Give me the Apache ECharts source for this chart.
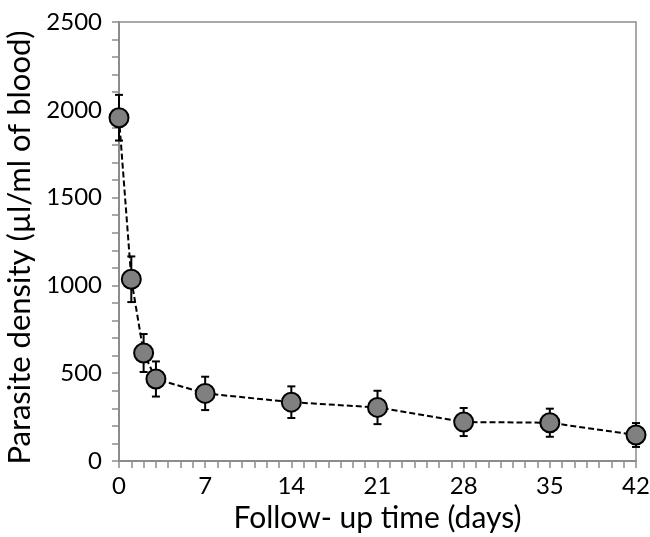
<!DOCTYPE html>
<html>
<head>
<meta charset="utf-8">
<script src="https://cdn.jsdelivr.net/npm/echarts@6/dist/echarts.min.js"></script>
<style>
html,body{margin:0;padding:0;background:#fff;}
#chart{width:650px;height:537px;}
</style>
</head>
<body>
<div id="chart"></div>
<script>
// follow-up days and parasite density (mean, error)
var days = [0, 1, 2, 3, 7, 14, 21, 28, 35, 42];
var density = [1955, 1035, 615, 467, 385, 335, 305, 222, 218, 148];
var errors = [130, 130, 108, 100, 95, 90, 95, 80, 80, 68];
var xTicks = [0, 7, 14, 21, 28, 35, 42];
var yTicks = [0, 500, 1000, 1500, 2000, 2500];

var font = 'Lato, "Open Sans", sans-serif';
var axisGray = '#8c8c8c';

var points = [];
var bars = [];
for (var i = 0; i < days.length; i++) {
	points.push([days[i], density[i]]);
	bars.push([days[i], density[i] - errors[i], density[i] + errors[i]]);
}

function renderErr(params, api) {
	var x = api.value(0);
	var lo = api.coord([x, api.value(1)]);
	var hi = api.coord([x, api.value(2)]);
	var cap = 4;
	var st = {stroke: '#000', lineWidth: 2};
	return {
		type: 'group',
		children: [
			{type: 'line', shape: {x1: lo[0], y1: lo[1], x2: hi[0], y2: hi[1]}, style: st},
			{type: 'line', shape: {x1: lo[0] - cap, y1: lo[1], x2: lo[0] + cap, y2: lo[1]}, style: st},
			{type: 'line', shape: {x1: hi[0] - cap, y1: hi[1], x2: hi[0] + cap, y2: hi[1]}, style: st}
		]
	};
}

var chart = echarts.init(document.getElementById('chart'));
chart.setOption({
	animation: false,
	backgroundColor: '#fff',
	grid: {
		left: 119, right: 14, top: 22, bottom: 76,
		containLabel: false, outerBoundsMode: 'none',
		show: true, borderColor: axisGray, borderWidth: 1.5
	},
	xAxis: {
		type: 'value',
		min: xTicks[0],
		max: xTicks[xTicks.length - 1],
		interval: 7,
		name: 'Follow- up time (days)',
		nameLocation: 'middle',
		nameGap: 42,
		nameTextStyle: {fontFamily: font, fontSize: 30, color: '#000'},
		axisLine: {onZero: false, lineStyle: {color: axisGray, width: 2}},
		axisTick: {show: true, length: 7, lineStyle: {color: axisGray, width: 1.5}},
		minorTick: {show: true, splitNumber: 7, length: 7, lineStyle: {color: axisGray, width: 1.5}},
		axisLabel: {fontFamily: font, fontSize: 24, color: '#000', margin: 13},
		splitLine: {show: false}
	},
	yAxis: {
		type: 'value',
		min: yTicks[0],
		max: yTicks[yTicks.length - 1],
		interval: 500,
		name: 'Parasite density (µl/ml of blood)',
		nameLocation: 'middle',
		nameGap: 77,
		nameTextStyle: {fontFamily: font, fontSize: 31, color: '#000', padding: [0, 12, 0, 0]},
		axisLine: {show: true, lineStyle: {color: axisGray, width: 2}},
		axisTick: {show: true, length: 7, lineStyle: {color: axisGray, width: 1.5}},
		minorTick: {show: true, splitNumber: 5, length: 7, lineStyle: {color: axisGray, width: 1.5}},
		axisLabel: {fontFamily: font, fontSize: 24, color: '#000', margin: 17, formatter: function (v) { return String(v); }},
		splitLine: {show: false}
	},
	series: [
		{
			type: 'custom',
			renderItem: renderErr,
			data: bars,
			z: 1,
			clip: false
		},
		{
			type: 'line',
			data: points,
			z: 2,
			symbol: 'circle',
			symbolSize: 19,
			showAllSymbol: true,
			lineStyle: {color: '#000', width: 2, type: [6, 3]},
			itemStyle: {color: '#808080', borderColor: '#000', borderWidth: 2},
			clip: false
		}
	]
});
</script>
</body>
</html>
